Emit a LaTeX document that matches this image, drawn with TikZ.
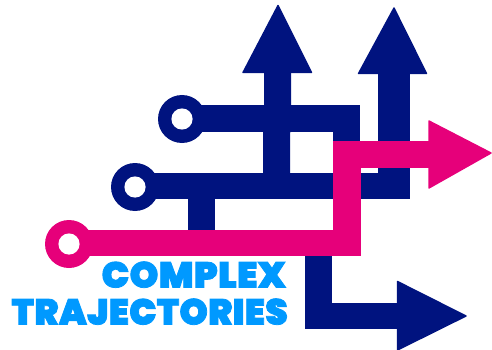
\documentclass[tikz,border=0pt]{standalone}
\usepackage{fontspec}
\newfontfamily\logofont[UprightFont=* Black,BoldFont=* Black,FakeBold=2.2,LetterSpace=1.2]{Poppins}
\definecolor{navy}{HTML}{00137F}
\definecolor{pink}{HTML}{E6007A}
\definecolor{sky}{HTML}{0099FF}
\tikzset{
  navyshape/.style={fill=navy},
  pinkshape/.style={fill=pink},
  headshape/.style={draw, line width=1.4pt, line join=round},
  holeshape/.style={fill=white},
  logotext/.style={text=sky, inner sep=0pt, anchor=base east, font=\logofont\fontsize{36}{36}\selectfont}
}
\begin{document}
\begin{tikzpicture}[x=1pt,y=-1pt]
\useasboundingbox (0,0) rectangle (492,350);
% navy upper circuit
\path[navyshape] (182,119) circle (24);
\path[navyshape] (182,105) rectangle (359.5,131.5);
\path[navyshape] (333,105) rectangle (359.5,175);
\path[navyshape] (135,187) circle (24);
\path[navyshape] (135,172.5) rectangle (409.5,198.5);
\path[navyshape] (188,190) rectangle (215,232);
\path[navyshape] (264,70) rectangle (291,132) (263,131) rectangle (290,175);
\path[navyshape] (378,70) rectangle (409.5,198);
\path[navyshape,headshape,draw=navy] (278,5.5) -- (311.5,72.5) -- (243,72.5) -- cycle;
\path[navyshape,headshape,draw=navy] (394,8) -- (426.5,73.5) -- (358.5,73.5) -- cycle;
% navy lower arrow
\path[navyshape] (305,250) rectangle (332.3,329);
\path[navyshape] (305,302.7) rectangle (400,329);
\path[navyshape,headshape,draw=navy] (397.5,281.5) -- (466,316) -- (397.5,350) -- cycle;
% pink circuit
\path[pinkshape] (69,244) circle (24);
\path[pinkshape] (69,230) rectangle (360.5,255.7);
\path[pinkshape] (332.7,141) rectangle (360.5,255.7);
\path[pinkshape] (332.7,141) rectangle (432,168.3);
\path[pinkshape,headshape,draw=pink] (429,121) -- (491,153) -- (429,188) -- cycle;
% holes
\path[holeshape] (182,119) circle (10.6);
\path[holeshape] (135,187) circle (10.6);
\path[holeshape] (69,244) circle (10.6);
% text
\node[logotext,xscale=1.015] (line1) at (286,287.5) {COMPLEX};
\node[logotext] (line2) at (288,324.5) {TRAJECTORIES};
\end{tikzpicture}
\end{document}
